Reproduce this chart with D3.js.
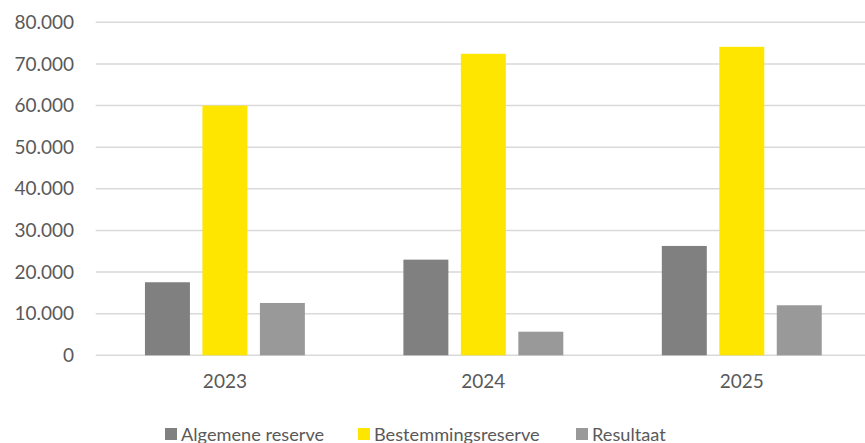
<!DOCTYPE html>
<html>
<head>
<meta charset="utf-8">
<script src="https://cdn.jsdelivr.net/npm/d3@7"></script>
<style>
  html, body { margin: 0; padding: 0; background: #fff; overflow: hidden; }
  svg { display: block; }
  text { font-family: Lato, "Open Sans", sans-serif; fill: #595959; }
</style>
</head>
<body>
<svg id="chart" width="865" height="443"></svg>
<script>
const years = ["2023", "2024", "2025"];
const seriesNames = ["Algemene reserve", "Bestemmingsreserve", "Resultaat"];
const algemeneReserve = [17550, 22980, 26270];
const bestemmingsreserve = [60000, 72430, 74110];
const resultaat = [12570, 5670, 12020];
const yTicks = [0, 10000, 20000, 30000, 40000, 50000, 60000, 70000, 80000];
const colors = ["#808080", "#FFE600", "#999999"];

const seriesValues = [algemeneReserve, bestemmingsreserve, resultaat];
const data = years.map((yr, i) => ({
  year: yr,
  values: seriesNames.map((s, j) => ({ key: s, value: seriesValues[j][i], idx: j }))
}));

const svg = d3.select("#chart");
const plotLeft = 95.7, plotRight = 871, plotTop = 22.3, plotBottom = 355.3;

const x0 = d3.scaleBand().domain(years).range([plotLeft, plotRight]).padding(0);
const x1 = d3.scaleBand().domain(seriesNames).range([0, x0.bandwidth()])
  .paddingInner(0.2174).paddingOuter(0.857);
const y = d3.scaleLinear().domain([0, 80000]).range([plotBottom, plotTop]);

const fmt = v => v === 0 ? "0" : d3.format(",")(v).replace(/,/g, ".");

// gridlines
svg.append("g").selectAll("line").data(yTicks).join("line")
  .attr("x1", plotLeft).attr("x2", plotRight)
  .attr("y1", d => y(d)).attr("y2", d => y(d))
  .attr("stroke", "#D9D9D9").attr("stroke-width", 1.5);

// y tick labels via axis
const yAxis = svg.append("g").attr("transform", `translate(${plotLeft},0)`)
  .call(d3.axisLeft(y).tickValues(yTicks).tickFormat(fmt).tickSize(0).tickPadding(21.7));
yAxis.select(".domain").remove();
yAxis.selectAll("text").attr("font-size", 19).attr("fill", "#595959")
  .style("font-family", "Lato, 'Open Sans', sans-serif");

// bars
svg.append("g").selectAll("g").data(data).join("g")
  .attr("transform", d => `translate(${x0(d.year)},0)`)
  .selectAll("rect").data(d => d.values).join("rect")
  .attr("x", d => x1(d.key))
  .attr("width", x1.bandwidth())
  .attr("y", d => y(d.value))
  .attr("height", d => y(0) - y(d.value))
  .attr("fill", d => colors[d.idx]);

// x axis labels
const xAxis = svg.append("g").attr("transform", `translate(0,${plotBottom})`)
  .call(d3.axisBottom(x0).tickSize(0).tickPadding(19));
xAxis.select(".domain").remove();
xAxis.selectAll("text").attr("font-size", 19).attr("fill", "#595959")
  .style("font-family", "Lato, 'Open Sans', sans-serif");

// legend
const legendX = [165, 358, 576];
const lg = svg.append("g").selectAll("g").data(seriesNames).join("g")
  .attr("transform", (d, i) => `translate(${legendX[i]},0)`);
lg.append("rect").attr("x", 0).attr("y", 428).attr("width", 12).attr("height", 12)
  .attr("fill", (d, i) => colors[i]);
lg.append("text").attr("x", 16).attr("y", 440.5).attr("font-size", 18.2).text(d => d);
</script>
</body>
</html>
